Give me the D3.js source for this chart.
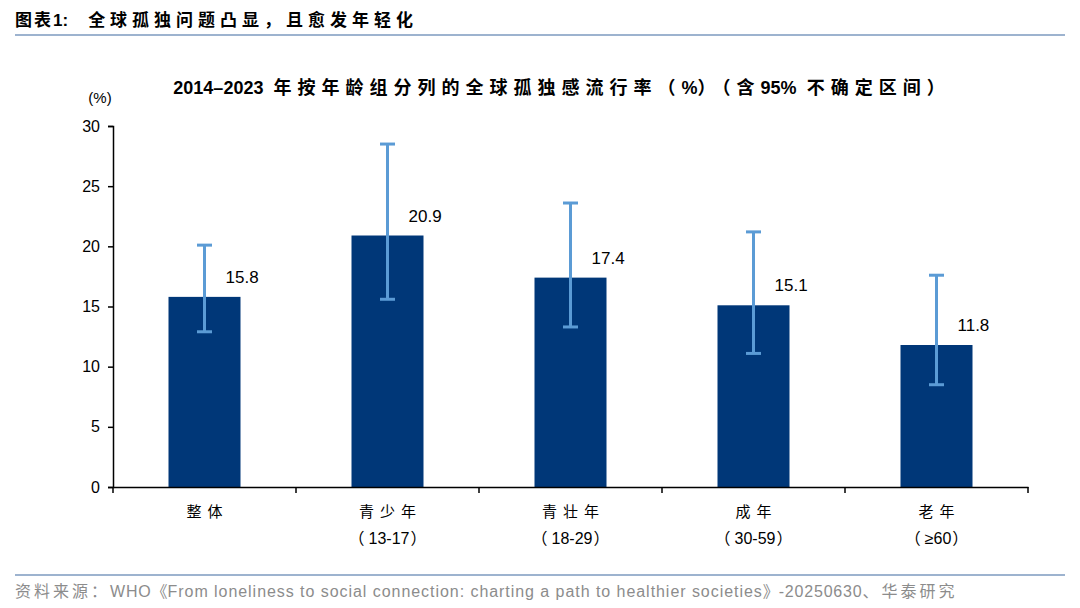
<!DOCTYPE html>
<html>
<head>
<meta charset="utf-8">
<script src="https://cdn.jsdelivr.net/npm/d3@7"></script>
<style>
    body { margin: 0; background: #fff; }
    svg { font-family: "Liberation Sans", Arial, "Noto Sans CJK SC", sans-serif; }
</style>
</head>
<body>
<svg width="1080" height="608"></svg>
<script>
// chart data
let categories = ["整体", "青少年", "青壮年", "成年", "老年"];
let subLabels = ["", "13-17", "18-29", "30-59", "≥60"];
let prevalence = [15.8, 20.9, 17.4, 15.1, 11.8];
let ciLow = [12.9, 15.6, 13.3, 11.1, 8.5];
let ciHigh = [20.1, 28.5, 23.6, 21.2, 17.6];
let yTicks = [0, 5, 10, 15, 20, 25, 30];

let svg = d3.select("svg");
let cjk = "\"Noto Sans CJK SC\", sans-serif";
let latin = "\"Liberation Sans\", Arial, sans-serif";

// text made of runs: [text, isCjk, letterSpacing, dx]
let runs = function (sel, parts) {
    parts.forEach(function (p) {
        sel.append("tspan")
            .style("font-family", p[1] ? cjk : latin)
            .style("letter-spacing", (p[2] || 0) + "px")
            .attr("dx", p[3] || 0)
            .text(p[0]);
    });
};

// header
let head = svg.append("text")
    .attr("x", 15).attr("y", 26)
    .style("font-size", "17px").style("font-weight", "bold")
    .attr("fill", "#000");
runs(head, [["图表", true, 2], ["1:", false, 0], ["全球孤独问题凸显，且愈发年轻化", true, 5, 20]]);
svg.append("line")
    .attr("x1", 15).attr("x2", 1065).attr("y1", 35).attr("y2", 35)
    .attr("stroke", "#9db3cf").attr("stroke-width", 2);

// footer
svg.append("line")
    .attr("x1", 15).attr("x2", 1065).attr("y1", 575).attr("y2", 575)
    .attr("stroke", "#9db3cf").attr("stroke-width", 2);
let foot = svg.append("text")
    .attr("x", 15).attr("y", 597)
    .style("font-size", "16px")
    .attr("fill", "#8c8c8c");
runs(foot, [["资料来源：", true, 3], ["WHO", false, 0.8], ["《", true, 0],
    ["From loneliness to social connection: charting a path to healthier societies", false, 0.95],
    ["》", true, 0], ["-20250630", false, 0.8], ["、华泰研究", true, 3]]);

// chart title
let title = svg.append("text")
    .attr("x", 562).attr("y", 94)
    .attr("text-anchor", "middle")
    .style("font-size", "18px").style("font-weight", "bold")
    .attr("fill", "#000");
runs(title, [["2014–2023", false, 0], ["\u00a0年按年龄组分列的全球孤独感流行率（", true, 6], ["%", false, 0],
    ["）（含", true, 6], ["95%", false, 0], ["\u00a0不确定区间）", true, 6]]);

svg.append("text")
    .attr("x", 100).attr("y", 103)
    .attr("text-anchor", "middle")
    .style("font-size", "15px")
    .attr("fill", "#000")
    .text("(%)");

let margin = {top: 126, left: 113, right: 52, bottom: 121},
    width = 1080 - margin.left - margin.right,
    height = 608 - margin.top - margin.bottom,
    g = svg.append("g").attr("transform", "translate(" + margin.left + "," + margin.top + ")");

let xb = d3.scaleBand().domain(categories).range([0, width]);
let y = d3.scaleLinear().domain([0, 30]).range([height, 0]);

// y axis
let yAxis = g.append("g")
    .call(d3.axisLeft(y).tickValues(yTicks).tickSize(5).tickPadding(8));
yAxis.select(".domain").attr("stroke", "#000").attr("stroke-width", 1.5);
yAxis.selectAll(".tick line").attr("stroke", "#000").attr("stroke-width", 1.5);
yAxis.selectAll(".tick text")
    .style("font-size", "16px").style("font-family", latin)
    .attr("fill", "#000");

// bars
g.selectAll(".bar")
    .data(categories)
    .enter().append("rect")
    .attr("class", "bar")
    .attr("x", function (d) { return xb(d) + xb.bandwidth() / 2 - 36; })
    .attr("width", 72)
    .attr("y", function (d, i) { return y(prevalence[i]); })
    .attr("height", function (d, i) { return height - y(prevalence[i]); })
    .attr("fill", "#003778");

// error bars
let err = g.selectAll(".err")
    .data(categories)
    .enter().append("g")
    .attr("class", "err")
    .attr("stroke", "#5b9bd5")
    .attr("stroke-width", 3);
err.append("line")
    .attr("x1", function (d) { return xb(d) + xb.bandwidth() / 2; })
    .attr("x2", function (d) { return xb(d) + xb.bandwidth() / 2; })
    .attr("y1", function (d, i) { return y(ciLow[i]); })
    .attr("y2", function (d, i) { return y(ciHigh[i]); });
[ciLow, ciHigh].forEach(function (arr) {
    err.append("line")
        .attr("x1", function (d) { return xb(d) + xb.bandwidth() / 2 - 7.5; })
        .attr("x2", function (d) { return xb(d) + xb.bandwidth() / 2 + 7.5; })
        .attr("y1", function (d, i) { return y(arr[i]); })
        .attr("y2", function (d, i) { return y(arr[i]); });
});

// value labels
g.selectAll(".val")
    .data(categories)
    .enter().append("text")
    .attr("class", "val")
    .attr("x", function (d) { return xb(d) + xb.bandwidth() / 2 + 21; })
    .attr("y", function (d, i) { return y(prevalence[i]) - 14; })
    .style("font-size", "17px")
    .attr("fill", "#000")
    .text(function (d, i) { return prevalence[i].toFixed(1); });

// x axis
let xAxis = g.append("g")
    .attr("transform", "translate(0," + height + ")")
    .call(d3.axisBottom(xb).tickSize(0).tickFormat(""));
xAxis.select(".domain").attr("stroke", "#000").attr("stroke-width", 1.5);
xAxis.selectAll(".sep")
    .data(d3.range(categories.length + 1))
    .enter().append("line")
    .attr("class", "sep")
    .attr("x1", function (i) { return i * xb.step(); })
    .attr("x2", function (i) { return i * xb.step(); })
    .attr("y1", 0).attr("y2", 6)
    .attr("stroke", "#000").attr("stroke-width", 1.5);

let lab = g.selectAll(".xlab")
    .data(categories)
    .enter().append("g")
    .attr("class", "xlab")
    .attr("transform", function (d) { return "translate(" + (xb(d) + xb.bandwidth() / 2) + "," + height + ")"; });
lab.append("text")
    .attr("y", 30)
    .attr("text-anchor", "middle")
    .style("font-family", cjk).style("font-size", "15px")
    .style("letter-spacing", "6px")
    .attr("dx", 3)
    .attr("fill", "#000")
    .text(function (d) { return d; });
lab.filter(function (d, i) { return subLabels[i] !== ""; })
    .append("text")
    .attr("y", 57)
    .attr("text-anchor", "middle")
    .style("font-size", "16px")
    .attr("fill", "#000")
    .each(function (d) {
        let i = categories.indexOf(d);
        runs(d3.select(this), [["（", true, 0], [subLabels[i], false, 0, 4], ["）", true, 0, 1]]);
    });
</script>
</body>
</html>
